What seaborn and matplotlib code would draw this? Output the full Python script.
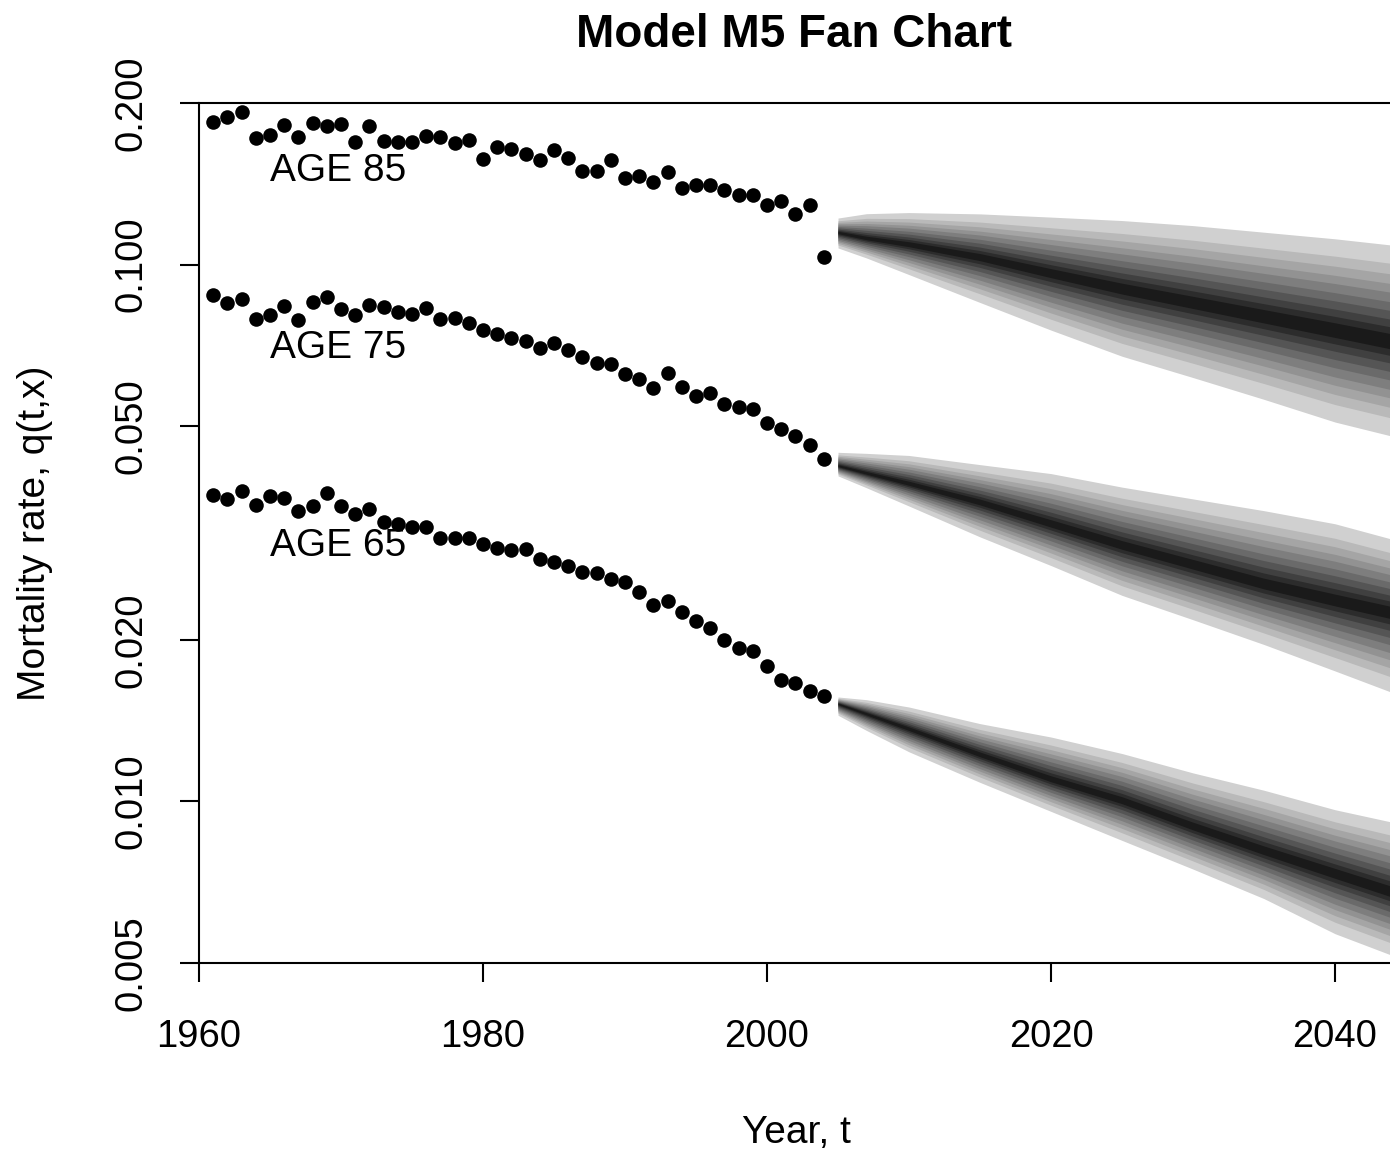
import numpy as np
import pandas as pd
import seaborn as sns
import matplotlib
matplotlib.use("Agg")
import matplotlib.pyplot as plt

# observed mortality rates, 1961-2004
years = list(range(1961, 2005))
q85 = [0.1842, 0.1886, 0.1927, 0.1721, 0.1744, 0.1820, 0.1729, 0.1834, 0.1813, 0.1828,
       0.1690, 0.1815, 0.1697, 0.1692, 0.1694, 0.1739, 0.1727, 0.1683, 0.1707, 0.1576,
       0.1654, 0.1642, 0.1606, 0.1567, 0.1638, 0.1579, 0.1495, 0.1497, 0.1565, 0.1452,
       0.1463, 0.1426, 0.1488, 0.1391, 0.1406, 0.1409, 0.1376, 0.1350, 0.1347, 0.1291,
       0.1315, 0.1242, 0.1291, 0.1032]
q75 = [0.0877, 0.0849, 0.0861, 0.0793, 0.0807, 0.0839, 0.0788, 0.0852, 0.0869, 0.0825,
       0.0804, 0.0842, 0.0835, 0.0815, 0.0810, 0.0831, 0.0792, 0.0796, 0.0777, 0.0755,
       0.0743, 0.0731, 0.0722, 0.0698, 0.0715, 0.0692, 0.0673, 0.0656, 0.0654, 0.0626,
       0.0613, 0.0589, 0.0627, 0.0591, 0.0568, 0.0576, 0.0549, 0.0542, 0.0538, 0.0507,
       0.0495, 0.0480, 0.0461, 0.0435]
q65 = [0.0373, 0.0366, 0.0379, 0.0357, 0.0370, 0.0367, 0.0348, 0.0355, 0.0375, 0.0355,
       0.0343, 0.0350, 0.0332, 0.0329, 0.0325, 0.0324, 0.0310, 0.0310, 0.0309, 0.0302,
       0.0296, 0.0294, 0.0295, 0.0283, 0.0279, 0.0275, 0.0268, 0.0266, 0.0260, 0.0256,
       0.0246, 0.0232, 0.0236, 0.0225, 0.0217, 0.0210, 0.0200, 0.01935, 0.0191, 0.0179,
       0.01683, 0.01664, 0.01608, 0.01572]

# projected fan: median and outer bounds
fan_years = [2005, 2007, 2010, 2015, 2020, 2025, 2030, 2035, 2040, 2045]
med85 = [0.1148, 0.1120, 0.1091, 0.1033, 0.0964, 0.0902, 0.0850, 0.0801, 0.0755, 0.0710]
hi85 = [0.1221, 0.1244, 0.1250, 0.1243, 0.1226, 0.1208, 0.1182, 0.1149, 0.1117, 0.1080]
lo85 = [0.1074, 0.1029, 0.0958, 0.0850, 0.0755, 0.0675, 0.0616, 0.0561, 0.0509, 0.0472]
med75 = [0.0422, 0.0409, 0.0391, 0.0361, 0.0329, 0.0300, 0.0276, 0.0254, 0.0237, 0.0222]
hi75 = [0.0447, 0.0445, 0.0441, 0.0424, 0.0408, 0.0385, 0.0366, 0.0348, 0.0329, 0.0303]
lo75 = [0.0404, 0.0384, 0.0355, 0.0311, 0.0275, 0.0242, 0.0218, 0.0196, 0.0175, 0.0156]
med65 = [0.01521, 0.01457, 0.01366, 0.01223, 0.01100, 0.01004, 0.00898, 0.00809, 0.00734, 0.00665]
hi65 = [0.01565, 0.01547, 0.01499, 0.01396, 0.01318, 0.01228, 0.01130, 0.01049, 0.00965, 0.00903]
lo65 = [0.01447, 0.01356, 0.01237, 0.01085, 0.00958, 0.00846, 0.00748, 0.00659, 0.00567, 0.00505]

# fan band widths (share of outer half-width) and shades, outer -> inner
band_fracs = [1.0, 0.81, 0.70, 0.60, 0.51, 0.41, 0.32, 0.23, 0.15, 0.08]
band_greys = ['#D0D0D0', '#B9B9B9', '#A5A5A5', '#929292', '#7E7E7E',
              '#6A6A6A', '#555555', '#404040', '#2C2C2C', '#1A1A1A']

ages = ["AGE 85", "AGE 75", "AGE 65"]
label_q = [0.1495, 0.0698, 0.0299]

y_ticks = [0.005, 0.010, 0.020, 0.050, 0.100, 0.200]
y_ticklabels = ["0.005", "0.010", "0.020", "0.050", "0.100", "0.200"]
x_ticks = [1960, 1980, 2000, 2020, 2040]

sns.set_style("ticks")
plt.rcParams['font.family'] = ['Liberation Sans', 'DejaVu Sans']
plt.rcParams['text.color'] = 'black'
plt.rcParams['axes.labelcolor'] = 'black'
plt.rcParams['xtick.color'] = 'black'
plt.rcParams['ytick.color'] = 'black'

obs = pd.DataFrame({
    'year': years * 3,
    'q': q85 + q75 + q65,
    'age': ['85'] * len(years) + ['75'] * len(years) + ['65'] * len(years),
})

fig = plt.figure(figsize=(13.9, 11.54), dpi=100)
ax = fig.add_axes([199 / 1390, 191 / 1154, 1191 / 1390, 860 / 1154])
ax.set_yscale('log')

fans = [(med85, lo85, hi85), (med75, lo75, hi75), (med65, lo65, hi65)]
fy = np.array(fan_years)
for med, lo, hi in fans:
    lm, ll, lh = np.log(med), np.log(lo), np.log(hi)
    for frac, grey in zip(band_fracs, band_greys):
        ax.fill_between(fy, np.exp(lm - frac * (lm - ll)), np.exp(lm + frac * (lh - lm)),
                        color=grey, linewidth=0, zorder=1)

for txt, qv in zip(ages, label_q):
    ax.text(1965, qv, txt, ha='left', va='center', fontsize=28, color='black', zorder=2)

sns.scatterplot(data=obs, x='year', y='q', color='black', s=110, linewidth=0,
                legend=False, ax=ax, zorder=3)

ax.set_xlim(1960, 1960 + 1191 / 14.2)
ax.set_ylim(0.005, 0.2)
ax.set_xticks(x_ticks)
ax.set_xticklabels([str(x) for x in x_ticks])
ax.set_yticks(y_ticks)
ax.set_yticklabels(y_ticklabels)
ax.yaxis.set_minor_locator(matplotlib.ticker.NullLocator())
plt.setp(ax.get_yticklabels(), rotation=90, va='center')

ax.tick_params(axis='both', direction='out', length=13.5, width=1.5,
               labelsize=27.5, color='black', labelcolor='black')
ax.tick_params(axis='x', pad=27)
ax.tick_params(axis='y', pad=22)
for side in ['left', 'top', 'bottom']:
    ax.spines[side].set_linewidth(1.5)
    ax.spines[side].set_color('black')
ax.spines['right'].set_visible(False)

ax.set_xlabel("Year, t", fontsize=28)
ax.xaxis.label.set_va('center')
ax.xaxis.set_label_coords(0.502, -0.1977)
ax.set_ylabel("Mortality rate, q(t,x)", fontsize=28)
ax.yaxis.label.set_va('center')
ax.yaxis.set_label_coords(-0.1377, 0.5)
ax.set_title("Model M5 Fan Chart", fontsize=33, fontweight='bold', color='black',
             y=1.0791, va='center', pad=0)

fig.savefig("out.png", dpi=100)
